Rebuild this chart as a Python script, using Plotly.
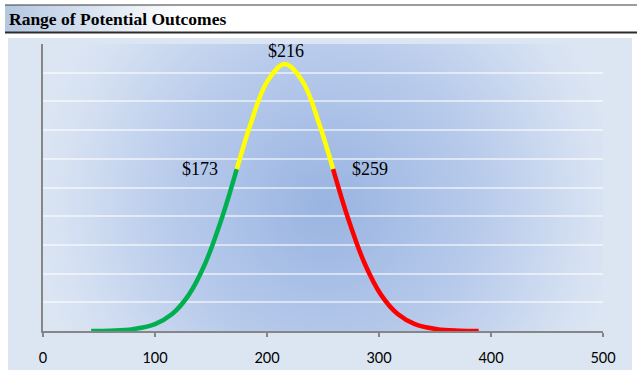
import base64
import plotly.graph_objects as go

# ---- data ----
title_text = "Range of Potential Outcomes"
x_ticks = [0, 100, 200, 300, 400, 500]

green_x = [43, 60, 80, 100, 115, 130, 145, 160, 173]
green_y = [0.0, 0.013, 0.062, 0.24, 0.58, 1.25, 2.37, 3.97, 5.64]

yellow_x = [173, 185, 200, 216, 232, 247, 259]
yellow_y = [5.64, 7.17, 8.68, 9.30, 8.68, 7.17, 5.64]

red_x = [259, 272, 287, 302, 317, 332, 352, 372, 389]
red_y = [5.64, 3.97, 2.37, 1.25, 0.58, 0.24, 0.062, 0.013, 0.0]

labels = ["$173", "$216", "$259"]
label_x = [140, 217, 292]
label_y = [5.65, 9.75, 5.65]

# ---- page geometry ----
W, H = 640, 378
L, R, T, B = 43, 37, 44, 47   # plot area: x 43..603, y 44..331

svg = f'''<svg xmlns="http://www.w3.org/2000/svg" width="{W}" height="{H}" viewBox="0 0 {W} {H}">
<defs>
<linearGradient id="tg" x1="0" y1="0" x2="1" y2="0">
<stop offset="0" stop-color="#b3c7e1"/>
<stop offset="0.28" stop-color="#ffffff"/>
<stop offset="1" stop-color="#ffffff"/>
</linearGradient>
<radialGradient id="pg" gradientUnits="userSpaceOnUse" cx="327" cy="205" r="300">
<stop offset="0" stop-color="#99b4e1"/>
<stop offset="0.5" stop-color="#b7caeb"/>
<stop offset="0.88" stop-color="#d6e1f2"/>
<stop offset="1" stop-color="#dce6f3"/>
</radialGradient>
</defs>
<rect x="0" y="0" width="{W}" height="{H}" fill="#ffffff"/>
<rect x="5" y="5" width="632" height="27" fill="url(#tg)"/>
<line x1="5" y1="5" x2="637" y2="5" stroke="#3a3a3a" stroke-width="1"/>
<line x1="5" y1="32.5" x2="637" y2="32.5" stroke="#2a2a2a" stroke-width="2"/>
<rect x="8" y="38" width="624" height="332" fill="#dce6f2"/>
<rect x="43" y="44" width="560" height="287" fill="url(#pg)"/>
</svg>'''
src = "data:image/svg+xml;base64," + base64.b64encode(svg.encode()).decode()

pw, ph = W - L - R, H - T - B

fig = go.Figure()
for xs, ys, col in [(green_x, green_y, "#00b050"),
                    (yellow_x, yellow_y, "#ffff00"),
                    (red_x, red_y, "#ff0000")]:
    fig.add_trace(go.Scatter(x=xs, y=ys, mode="lines",
                             line=dict(color=col, width=4.5, shape="spline", smoothing=1.0),
                             hoverinfo="skip", showlegend=False))

for t, x, y in zip(labels, label_x, label_y):
    fig.add_annotation(x=x, y=y, text=t, showarrow=False,
                       font=dict(family="Liberation Serif", size=18, color="#000000"))

fig.add_annotation(xref="paper", yref="paper", x=(7 - L) / pw, y=(H - B - 19) / ph,
                   xanchor="left", yanchor="middle", text="<b>" + title_text + "</b>",
                   showarrow=False,
                   font=dict(family="Liberation Serif", size=17.5, color="#000000"))

fig.add_layout_image(dict(source=src, xref="paper", yref="paper",
                          x=-L / pw, y=(H - B) / ph, sizex=W / pw, sizey=H / ph,
                          xanchor="left", yanchor="top", sizing="stretch", layer="below"))

fig.update_layout(
    width=W, height=H,
    margin=dict(l=L, r=R, t=T, b=B, pad=0),
    paper_bgcolor="white", plot_bgcolor="rgba(0,0,0,0)",
    xaxis=dict(range=[0, 500], tickvals=x_ticks, showgrid=False, zeroline=False,
               showline=True, linecolor="#868686", linewidth=1.5,
               ticks="outside", ticklen=4, tickwidth=1.5, tickcolor="#868686",
               ticklabelstandoff=9,
               tickfont=dict(family="Lato", size=14.5, color="#000000"), fixedrange=True),
    yaxis=dict(range=[0, 10], tickvals=[1, 2, 3, 4, 5, 6, 7, 8, 9], showticklabels=False,
               showgrid=True, gridcolor="rgba(255,255,255,0.55)", gridwidth=2,
               zeroline=False, showline=True, linecolor="#868686", linewidth=1.5,
               ticks="", fixedrange=True),
)

fig.write_html("out.html", config={"displayModeBar": False},
               post_script="document.body.style.margin='0px';document.body.style.overflow='hidden';")
